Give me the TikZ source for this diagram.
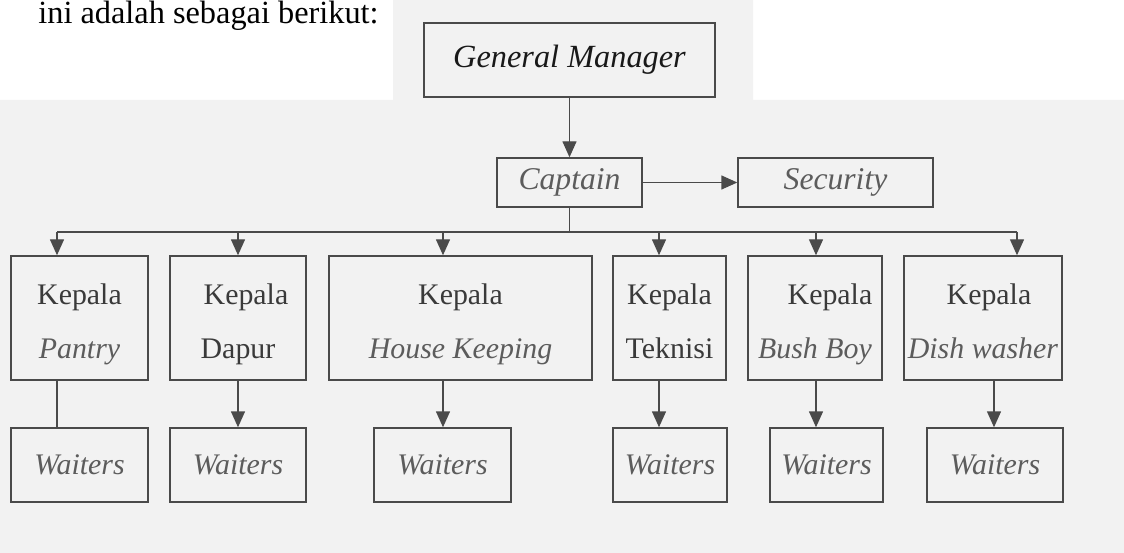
\documentclass[tikz,border=0pt]{standalone}
\usepackage{fontspec}
\setmainfont{Liberation Serif}
\usepackage{xcolor}
\usetikzlibrary{arrows.meta, positioning}
\definecolor{scangray}{RGB}{242, 242, 242}
\definecolor{inkline}{RGB}{74, 74, 74}
\definecolor{inktext}{RGB}{58, 58, 58}
\definecolor{inkital}{RGB}{92, 92, 92}
% two-line head label, optional shift of the first line
\newcommand{\kepala}[2][0cm]{\rule{0pt}{0.67cm}\hspace*{#1}Kepala\\#2\vphantom{p}}

\begin{document}
\begin{tikzpicture}[>={Triangle[length=0.32cm, width=0.28cm]},
  box/.style={draw=inkline, line width=0.8pt, inner sep=0pt, align=center,
              text=inktext, font=\fontsize{17}{31}\selectfont},
  lab/.style={text=inkital, font=\fontsize{17}{31}\selectfont\itshape},
  link/.style={draw=inkline, line width=0.8pt}]
  \useasboundingbox (0,0) rectangle (22.48,-11.06);
  % scanned background
  \fill[scangray] (7.86,0) -- (15.06,0) -- (15.06,-2) -- (22.48,-2)
    -- (22.48,-11.06) -- (0,-11.06) -- (0,-2) -- (7.86,-2) -- cycle;
  \node[anchor=base west, inner sep=0pt, font=\fontsize{18.4}{22}\selectfont]
    (intro) at (0.76,-0.48) {ini adalah sebagai berikut:};

  \node[box, minimum width=5.82cm, minimum height=1.48cm, text=black!90,
        font=\fontsize{18.4}{22}\selectfont\itshape] (gm) at (11.39,-1.2) {General Manager};
  \node[box, minimum width=2.9cm, minimum height=0.98cm, lab,
        font=\fontsize{18}{22}\selectfont\itshape] (cap) at (11.39,-3.65) {Captain};
  \node[box, minimum width=3.9cm, minimum height=0.98cm, lab,
        font=\fontsize{18}{22}\selectfont\itshape] (sec) at (16.71,-3.65) {Security};

  % kepala row
  \node[box, minimum width=2.74cm, minimum height=2.48cm] (pantry) at (1.59,-6.36)
    {\kepala{\textcolor{inkital}{\textit{Pantry}}}};
  \node[box, minimum width=2.72cm, minimum height=2.48cm] (dapur) at (4.76,-6.36)
    {\kepala[0.32cm]{Dapur}};
  \node[box, minimum width=5.26cm, minimum height=2.48cm] (house) at (9.21,-6.36)
    {\kepala{\textcolor{inkital}{\textit{House Keeping}}}};
  \node[box, minimum width=2.26cm, minimum height=2.48cm] (teknisi) at (13.39,-6.36)
    {\kepala{Teknisi}};
  \node[box, minimum width=2.68cm, minimum height=2.48cm] (bush) at (16.3,-6.36)
    {\kepala[0.6cm]{\textcolor{inkital}{\textit{Bush Boy}}}};
  \node[box, minimum width=3.16cm, minimum height=2.48cm] (dish) at (19.66,-6.36)
    {\kepala[0.24cm]{\textcolor{inkital}{\textit{Dish washer}}}};

  % waiters row
  \node[box, lab, minimum width=2.74cm, minimum height=1.48cm] (wpantry) at (1.59,-9.3) {Waiters};
  \node[box, lab, minimum width=2.72cm, minimum height=1.48cm] (wdapur) at (4.76,-9.3) {Waiters};
  \node[box, lab, minimum width=2.74cm, minimum height=1.48cm] (whouse) at (8.85,-9.3) {Waiters};
  \node[box, lab, minimum width=2.28cm, minimum height=1.48cm] (wteknisi) at (13.4,-9.3) {Waiters};
  \node[box, lab, minimum width=2.26cm, minimum height=1.48cm] (wbush) at (16.53,-9.3) {Waiters};
  \node[box, lab, minimum width=2.72cm, minimum height=1.48cm] (wdish) at (19.9,-9.3) {Waiters};

  % branch points on the bar
  \coordinate (b1) at (1.14,-4.64);
  \coordinate (b2) at (4.76,-4.64);
  \coordinate (b3) at (8.86,-4.64);
  \coordinate (b4) at (13.18,-4.64);
  \coordinate (b5) at (16.32,-4.64);
  \coordinate (b6) at (20.34,-4.64);
  \coordinate (d6) at (19.88,-4.64);

  \draw[link, ->, fill=inkline] (gm) -- (cap);
  \draw[link, ->, fill=inkline] (cap) -- (sec);
  \draw[link] (cap.south) -- (cap.south |- b1);
  \draw[link] (b1) -- (b6);
  \foreach \b/\n in {b1/pantry, b2/dapur, b3/house, b4/teknisi, b5/bush, b6/dish}
    \draw[link, ->, fill=inkline] (\b) -- (\b |- \n.north);

  \draw[link] (pantry.south -| b1) -- (wpantry.north -| b1);
  \foreach \b/\n/\w in {b2/dapur/wdapur, b3/house/whouse, b4/teknisi/wteknisi,
                        b5/bush/wbush, d6/dish/wdish}
    \draw[link, ->, fill=inkline] (\n.south -| \b) -- (\w.north -| \b);
\end{tikzpicture}
\end{document}
